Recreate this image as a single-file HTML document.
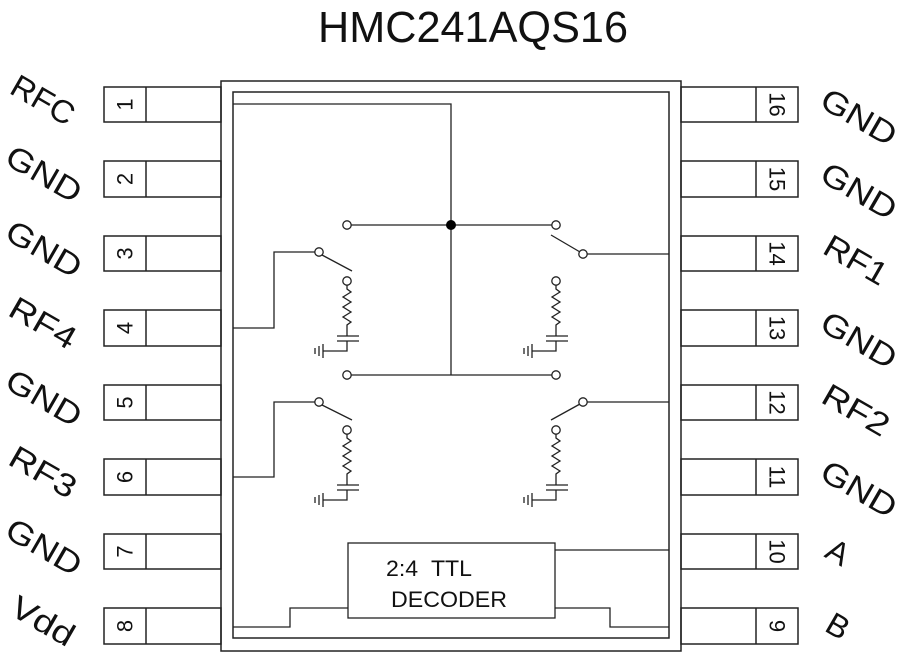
<!DOCTYPE html>
<html><head><meta charset="utf-8"><style>
html,body{margin:0;padding:0;background:#fff;}
svg{display:block;}
text{font-family:"Liberation Sans",sans-serif;}
</style></head><body>
<svg width="900" height="663" viewBox="0 0 900 663" xmlns="http://www.w3.org/2000/svg">
<defs>
<g id="unit" fill="none" stroke="#222" stroke-width="1.3">
  <circle cx="0" cy="0" r="4.2" fill="#fff"/>
  <polyline points="0,4 0,8 4,11 -4,16 4,21 -4,26 4,31 -4,36 4,41 0,44 0,55"/>
  <line x1="-10" y1="55" x2="12" y2="55"/>
  <line x1="-10" y1="60" x2="12" y2="60"/>
  <polyline points="0,60 0,70 -24,70"/>
  <line x1="-24" y1="63" x2="-24" y2="77"/>
  <line x1="-28" y1="65" x2="-28" y2="75"/>
  <line x1="-32" y1="67" x2="-32" y2="73"/>
</g>
</defs>
<text x="473" y="42" font-size="44" text-anchor="middle" textLength="310" lengthAdjust="spacingAndGlyphs" fill="#111">HMC241AQS16</text>

<g fill="none" stroke="#222" stroke-width="1.5">
  <rect x="221" y="81" width="460" height="570"/>
  <rect x="233" y="92" width="436" height="546"/>
  <rect x="104" y="87" width="117" height="35"/><line x1="146" y1="87" x2="146" y2="122"/>
  <rect x="104" y="161" width="117" height="36"/><line x1="146" y1="161" x2="146" y2="197"/>
  <rect x="104" y="236" width="117" height="35"/><line x1="146" y1="236" x2="146" y2="271"/>
  <rect x="104" y="310" width="117" height="36"/><line x1="146" y1="310" x2="146" y2="346"/>
  <rect x="104" y="385" width="117" height="35"/><line x1="146" y1="385" x2="146" y2="420"/>
  <rect x="104" y="459" width="117" height="36"/><line x1="146" y1="459" x2="146" y2="495"/>
  <rect x="104" y="534" width="117" height="35"/><line x1="146" y1="534" x2="146" y2="569"/>
  <rect x="104" y="608" width="117" height="36"/><line x1="146" y1="608" x2="146" y2="644"/>
  <rect x="681" y="87" width="117" height="35"/><line x1="756" y1="87" x2="756" y2="122"/>
  <rect x="681" y="161" width="117" height="36"/><line x1="756" y1="161" x2="756" y2="197"/>
  <rect x="681" y="236" width="117" height="35"/><line x1="756" y1="236" x2="756" y2="271"/>
  <rect x="681" y="310" width="117" height="36"/><line x1="756" y1="310" x2="756" y2="346"/>
  <rect x="681" y="385" width="117" height="35"/><line x1="756" y1="385" x2="756" y2="420"/>
  <rect x="681" y="459" width="117" height="36"/><line x1="756" y1="459" x2="756" y2="495"/>
  <rect x="681" y="534" width="117" height="35"/><line x1="756" y1="534" x2="756" y2="569"/>
  <rect x="681" y="608" width="117" height="36"/><line x1="756" y1="608" x2="756" y2="644"/>
</g>

<g fill="none" stroke="#222" stroke-width="1.3">
  <polyline points="233,104 451,104 451,375"/>
  <line x1="351" y1="225" x2="552" y2="225"/>
  <line x1="351" y1="375" x2="552" y2="375"/>
  <polyline points="233,328 274,328 274,252 315,252"/>
  <polyline points="233,477 274,477 274,402 315,402"/>
  <line x1="322" y1="255" x2="352" y2="271"/>
  <line x1="322" y1="405" x2="352" y2="420"/>
  <line x1="587" y1="254" x2="669" y2="254"/>
  <line x1="587" y1="402" x2="669" y2="402"/>
  <line x1="551" y1="235" x2="580" y2="252"/>
  <line x1="551" y1="420" x2="580" y2="404"/>
  <rect x="348" y="543" width="207" height="75"/>
  <line x1="555" y1="550" x2="669" y2="550"/>
  <polyline points="348,608 290,608 290,627 233,627"/>
  <polyline points="555,608 610,608 610,627 669,627"/>
</g>
<g fill="#fff" stroke="#222" stroke-width="1.3">
  <circle cx="347" cy="225" r="4.2"/><circle cx="556" cy="225" r="4.2"/>
  <circle cx="347" cy="375" r="4.2"/><circle cx="556" cy="375" r="4.2"/>
  <circle cx="319" cy="252" r="4.2"/><circle cx="319" cy="402" r="4.2"/>
  <circle cx="583" cy="254" r="4.2"/><circle cx="583" cy="402" r="4.2"/>
</g>
<circle cx="451" cy="225" r="5" fill="#000"/>
<use href="#unit" x="347" y="281"/>
<use href="#unit" x="347" y="430"/>
<use href="#unit" x="556" y="281"/>
<use href="#unit" x="556" y="430"/>

<text x="386" y="576" font-size="22" fill="#111" textLength="86" lengthAdjust="spacingAndGlyphs">2:4&#160;&#160;TTL</text>
<text x="391" y="607" font-size="22" fill="#111" textLength="116" lengthAdjust="spacingAndGlyphs">DECODER</text>

<g font-size="22" fill="#111" text-anchor="middle" dominant-baseline="central">
  <text transform="translate(125,104.5) rotate(-90)">1</text>
  <text transform="translate(125,179) rotate(-90)">2</text>
  <text transform="translate(125,253.5) rotate(-90)">3</text>
  <text transform="translate(125,328) rotate(-90)">4</text>
  <text transform="translate(125,402.5) rotate(-90)">5</text>
  <text transform="translate(125,477) rotate(-90)">6</text>
  <text transform="translate(125,551.5) rotate(-90)">7</text>
  <text transform="translate(125,626) rotate(-90)">8</text>
  <text transform="translate(777,104.5) rotate(90)">16</text>
  <text transform="translate(777,179) rotate(90)">15</text>
  <text transform="translate(777,253.5) rotate(90)">14</text>
  <text transform="translate(777,328) rotate(90)">13</text>
  <text transform="translate(777,402.5) rotate(90)">12</text>
  <text transform="translate(777,477) rotate(90)">11</text>
  <text transform="translate(777,551.5) rotate(90)">10</text>
  <text transform="translate(777,626) rotate(90)">9</text>
</g>
<g font-size="32" fill="#111" text-anchor="middle" dominant-baseline="central">
  <text transform="translate(43,100) rotate(30)" textLength="68" lengthAdjust="spacingAndGlyphs">RFC</text>
  <text transform="translate(44,174) rotate(30)" textLength="82" lengthAdjust="spacingAndGlyphs">GND</text>
  <text transform="translate(44,249) rotate(30)" textLength="82" lengthAdjust="spacingAndGlyphs">GND</text>
  <text transform="translate(43,323) rotate(30)" textLength="72" lengthAdjust="spacingAndGlyphs">RF4</text>
  <text transform="translate(44,398) rotate(30)" textLength="82" lengthAdjust="spacingAndGlyphs">GND</text>
  <text transform="translate(43,472) rotate(30)" textLength="72" lengthAdjust="spacingAndGlyphs">RF3</text>
  <text transform="translate(44,547) rotate(30)" textLength="82" lengthAdjust="spacingAndGlyphs">GND</text>
  <text transform="translate(43,621) rotate(30)" textLength="68" lengthAdjust="spacingAndGlyphs">Vdd</text>
  <text transform="translate(859,117) rotate(30)" textLength="82" lengthAdjust="spacingAndGlyphs">GND</text>
  <text transform="translate(859,191) rotate(30)" textLength="82" lengthAdjust="spacingAndGlyphs">GND</text>
  <text transform="translate(856,260) rotate(30)" textLength="68" lengthAdjust="spacingAndGlyphs">RF1</text>
  <text transform="translate(859,340) rotate(30)" textLength="82" lengthAdjust="spacingAndGlyphs">GND</text>
  <text transform="translate(856,410) rotate(30)" textLength="72" lengthAdjust="spacingAndGlyphs">RF2</text>
  <text transform="translate(859,489) rotate(30)" textLength="82" lengthAdjust="spacingAndGlyphs">GND</text>
  <text transform="translate(838,552) rotate(30)">A</text>
  <text transform="translate(838,626) rotate(30)">B</text>
</g>
</svg>
</body></html>
